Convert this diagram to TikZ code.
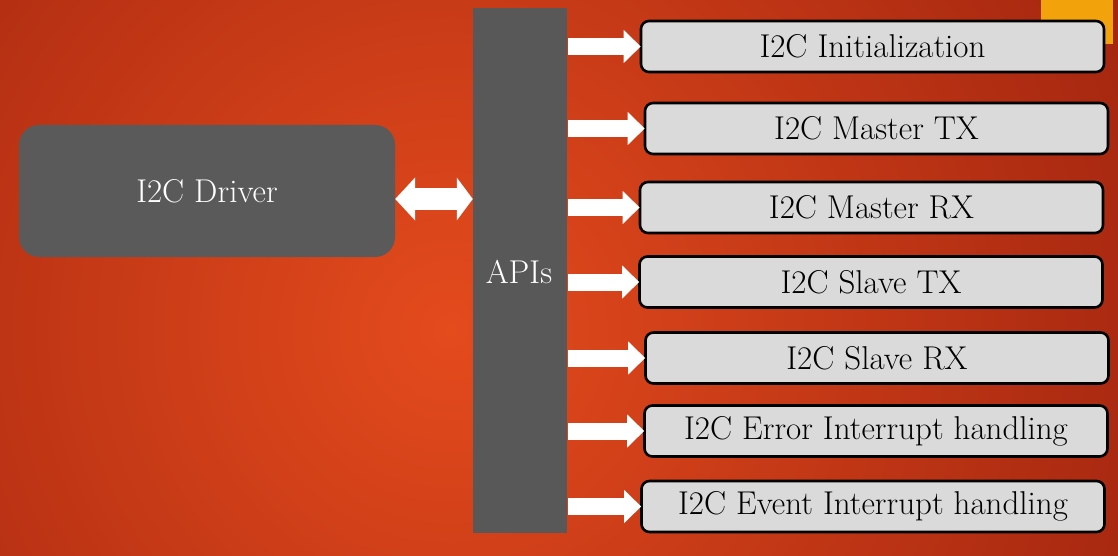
\documentclass[tikz,border=0pt]{standalone}
\usepackage{fontspec}
\usetikzlibrary{arrows.meta,calc}
\definecolor{bgin}{HTML}{E44B1D}
\definecolor{bgout}{HTML}{8A170A}
\definecolor{darkbox}{HTML}{5A5A5A}
\definecolor{apibar}{HTML}{575857}
\definecolor{lightbox}{HTML}{DADADA}
\definecolor{corner}{HTML}{F2A30C}
\tikzset{
  txt/.style={font=\fontsize{33}{38}\selectfont},
  apibox/.style={draw=black, line width=2.6pt, fill=lightbox, rounded corners=8pt,
    minimum width=463pt, minimum height=51pt, inner sep=0pt, txt, text=black},
  blockarrow/.style={white, line width=17pt, -{Triangle[width=32pt,length=17pt]}},
  dblarrow/.style={white, line width=22pt, {Triangle[width=42pt,length=20pt]}-{Triangle[width=42pt,length=16pt]}}
}
\begin{document}
\begin{tikzpicture}[x=1pt,y=-1pt]
\useasboundingbox (0,0) rectangle (1118,556);
\begin{scope}
\clip (0,0) rectangle (1118,556);
\shade[inner color=bgin, outer color=bgout] (450-1050,330-1050) rectangle (450+1050,330+1050);
\fill[corner] (1041,0) rectangle (1113,44);
\end{scope}
% driver
\node[fill=darkbox, rounded corners=20pt, minimum width=376pt, minimum height=132pt, inner sep=0pt, txt, text=white] (driver) at (207,191) {I2C Driver};
% APIs bar
\node[fill=apibar, minimum width=94pt, minimum height=525pt, inner sep=0pt, txt, text=white] (apis) at (520,270.5) {};
\node[txt, text=white, inner sep=0pt] (apilabel) at (519,272) {APIs};
% right boxes
\node[apibox] (b1) at (872.5,46.5) {I2C Initialization};
\node[apibox] (b2) at (876.5,128.5) {I2C Master TX};
\node[apibox] (b3) at (871.5,207.5) {I2C Master RX};
\node[apibox] (b4) at (871,282) {I2C Slave TX};
\node[apibox] (b5) at (877,358) {I2C Slave RX};
\node[apibox] (b6) at (876,431) {I2C Error Interrupt handling};
\node[apibox] (b7) at (873,506.5) {I2C Event Interrupt handling};
% arrows
\foreach \b in {b1,b2,b3,b4,b5,b6,b7}{
  \draw[blockarrow] ($(apis.east |- \b.west)+(1,0)$) -- ($(\b.west)+(1,0)$);
}
\coordinate (dA) at ($(driver.east)+(0,8)$);
\draw[dblarrow] (dA) -- (apis.west |- dA);
\end{tikzpicture}
\end{document}
